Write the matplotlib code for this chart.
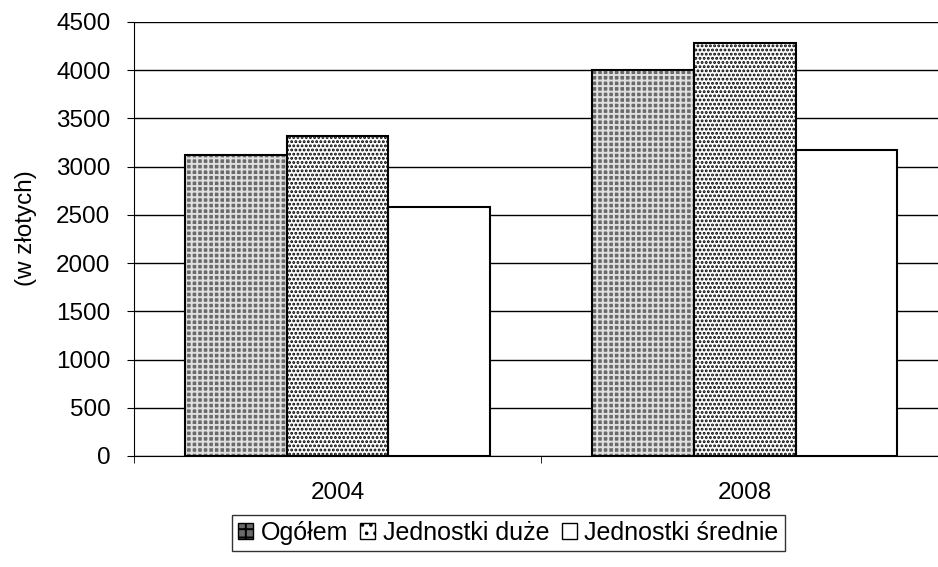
import numpy as np
import matplotlib.pyplot as plt
from matplotlib.patches import Patch

plt.rcParams['font.family'] = ['Liberation Sans', 'DejaVu Sans']
plt.rcParams['hatch.linewidth'] = 1.4

years = ['2004', '2008']
series = ['Ogółem', 'Jednostki duże', 'Jednostki średnie']
ogolem = [3120, 4000]
duze = [3320, 4280]
srednie = [2580, 3170]

fig = plt.figure(figsize=(9.38, 5.67), dpi=100)
ax = fig.add_axes([0.1429, 0.1958, 0.868, 0.7654])

x = np.arange(len(years))
w = 0.25

# Ogółem: grey with fine white crosses
ax.bar(x - w, ogolem, w, color='#6a6a6a', hatch='+++', edgecolor='#e0e0e0', linewidth=0, zorder=3)
ax.bar(x - w, ogolem, w, fill=False, edgecolor='black', linewidth=1.5, zorder=4)
# Jednostki duże: white with dense black dots
ax.bar(x, duze, w, color='white', hatch='....', edgecolor='black', linewidth=0, zorder=3)
ax.bar(x, duze, w, fill=False, edgecolor='black', linewidth=1.5, zorder=4)
# Jednostki średnie: plain white
ax.bar(x + w, srednie, w, color='white', edgecolor='black', linewidth=1.5, zorder=3)

ax.set_ylim(0, 4500)
ax.set_yticks(np.arange(0, 4501, 500))
ax.set_xlim(-0.5, 1.5)
ax.set_xticks(x)
ax.set_xticklabels(years)
ax.set_xticks([-0.5, 0.5, 1.5], minor=True)
ax.tick_params(axis='x', which='major', length=0, pad=19, labelsize=17.5)
ax.tick_params(axis='x', which='minor', length=5, direction='out', color='black')
ax.tick_params(axis='y', length=5, direction='out', labelsize=17.5, pad=12)
ax.yaxis.grid(True, color='black', linewidth=1, zorder=0)
ax.set_axisbelow(True)
for s in ['top', 'right']:
    ax.spines[s].set_visible(False)
ax.spines['left'].set_color('black')
ax.spines['bottom'].set_color('black')
ax.set_ylabel('(w złotych)', fontsize=17.5, va='center')
ax.yaxis.set_label_coords(-0.133, 0.525)

handles = [
    Patch(facecolor='#6a6a6a', edgecolor='black', hatch='++'),
    Patch(facecolor='white', edgecolor='black', hatch='..'),
    Patch(facecolor='white', edgecolor='black'),
]
leg = fig.legend(handles, series, loc='center', bbox_to_anchor=(0.542, 0.06),
                 ncol=3, frameon=True, fancybox=False, edgecolor='black', fontsize=18,
                 handlelength=0.6, handleheight=0.6, handletextpad=0.3, columnspacing=0.5,
                 borderpad=0.25, borderaxespad=0)
leg.get_frame().set_linewidth(1.0)

fig.savefig('out.png', dpi=100)
